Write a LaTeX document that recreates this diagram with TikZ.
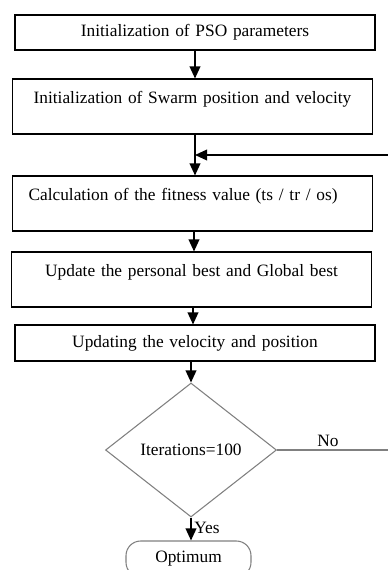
\documentclass[tikz,border=0pt]{standalone}
\usepackage{fontspec}
\setmainfont{Liberation Serif}
\usetikzlibrary{shapes.geometric,arrows.meta}
\begin{document}
\begin{tikzpicture}[x=.75pt, y=-.75pt, >={Triangle[length=9pt,width=8pt]},
  font=\fontsize{13}{15}\selectfont,
  box/.style={draw, line width=.8pt, text width=246pt, inner xsep=12pt, inner ysep=0pt, align=center},
  flow/.style={->, line width=1.1pt}]
\useasboundingbox (0,0) rectangle (388,570);

\node [box, minimum height=26.25pt] (init) at (195,32.5) {Initialization of PSO parameters};
\node [box, minimum height=41.25pt] (swarm) at (192.5,106.5) {Initialization of Swarm position and velocity\\[-6pt]\strut};
\node [box, minimum height=41.25pt, align=left] (fit) at (192.5,203.5) {Calculation of the fitness value (ts / tr / os)\\[-6pt]\strut};
\node [box, minimum height=41.25pt] (best) at (191.5,279.5) {Update the personal best and Global best\\[-6pt]\strut};
\node [box, minimum height=27pt] (upd) at (195,343) {Updating the velocity and position};
\node [draw=gray, line width=.8pt, diamond, minimum width=128.25pt, minimum height=100.5pt, inner sep=0pt] (check) at (191,450) {Iterations=100};
\node [draw=gray, line width=.8pt, rounded corners=11pt, minimum width=93.75pt, minimum height=27pt] (opt) at (188.5,559) {Optimum};

\draw [flow] (init.south -| 195,0) -- (swarm.north -| 195,0);
\draw [flow] (swarm.south -| 195,0) -- (fit.north -| 195,0);
\draw [flow] (fit.south -| 194,0) -- (best.north -| 194,0);
\draw [flow] (best.south -| 193,0) -- (upd.north -| 193,0);
\draw [flow] (upd.south -| check.north) -- (check.north);
\draw [flow] (check.south) -- (check.south |- opt.north);

% loop back when not done
\coordinate (merge) at (195,155);
\coordinate (edge) at (394,450);
\draw [gray, line width=.8pt] (check.east) -- (edge);
\draw [flow] (edge) |- (merge);

\node (no) at (328,441) {No};
\node (yes) at (207,528) {Yes};
\end{tikzpicture}
\end{document}
